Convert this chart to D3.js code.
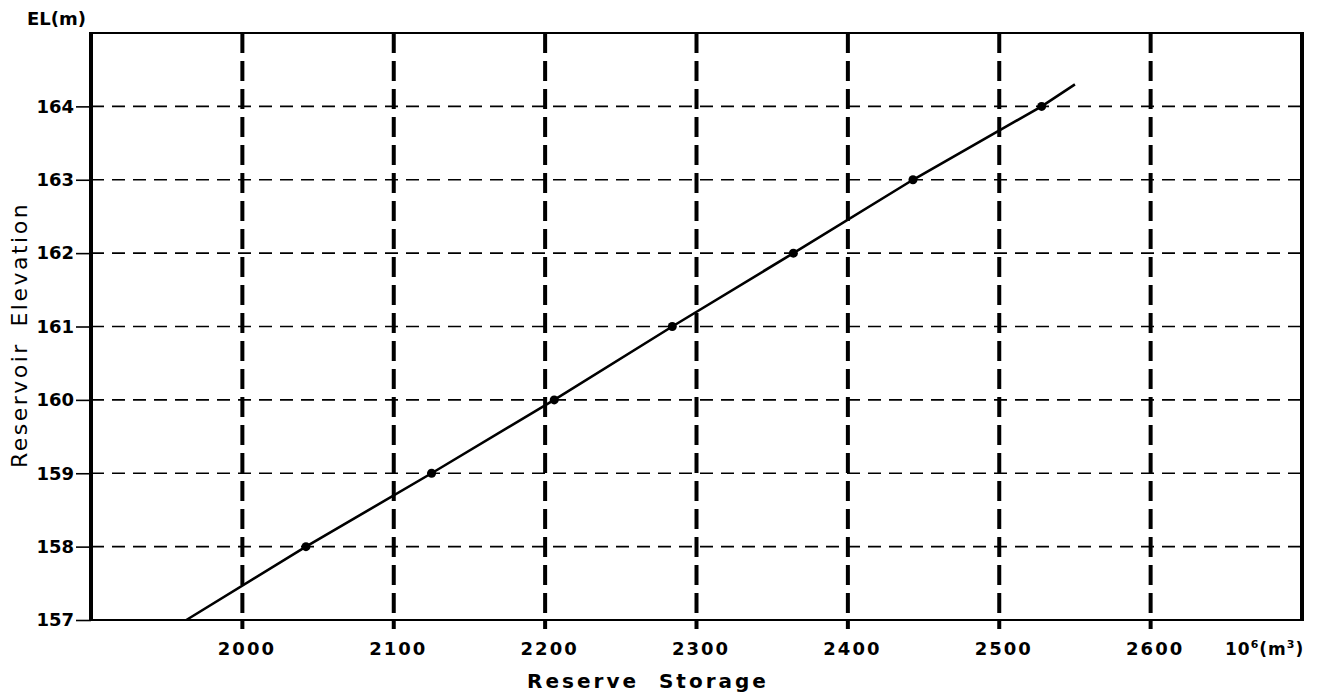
<!DOCTYPE html>
<html>
<head>
<meta charset="utf-8">
<script src="https://cdn.jsdelivr.net/npm/d3@7"></script>
<style>
  body { margin: 0; background: #fff; }
  text { font-family: "DejaVu Sans", sans-serif; font-weight: bold; fill: #000; }
</style>
</head>
<body>
<div id="chart"></div>
<script>
// storage (10^6 m3) vs elevation (m)
const storage = [2042, 2125, 2206, 2284, 2364, 2443, 2528];
const elevation = [158, 159, 160, 161, 162, 163, 164];
// the drawn line runs a bit past the measured points at both ends
const lineStorage = [1963, 2042, 2125, 2206, 2284, 2364, 2443, 2528, 2550];
const lineElevation = [157, 158, 159, 160, 161, 162, 163, 164, 164.3];

const xTicks = [2000, 2100, 2200, 2300, 2400, 2500, 2600];
const yTicks = [157, 158, 159, 160, 161, 162, 163, 164];

const W = 1320, H = 699;
const margin = {top: 33, right: 18, bottom: 79, left: 91};
const w = W - margin.left - margin.right;
const h = H - margin.top - margin.bottom;

const svg = d3.select("#chart").append("svg")
    .attr("width", W)
    .attr("height", H);

const g = svg.append("g")
    .attr("transform", "translate(" + margin.left + "," + margin.top + ")");

const x = d3.scaleLinear().domain([1900, 2700]).range([0, w]);
const y = d3.scaleLinear().domain([157, 165]).range([h, 0]);

// horizontal grid - thin dashes
g.selectAll(".hgrid")
    .data(yTicks.filter(d => d > 157))
    .enter().append("line")
    .attr("x1", 0)
    .attr("x2", w)
    .attr("y1", d => y(d))
    .attr("y2", d => y(d))
    .attr("stroke", "#000")
    .attr("stroke-width", 1.6)
    .attr("stroke-dasharray", "13,8");

// vertical grid - heavy dashes, poking out under the axis
g.selectAll(".vgrid")
    .data(xTicks)
    .enter().append("line")
    .attr("x1", d => x(d))
    .attr("x2", d => x(d))
    .attr("y1", 0)
    .attr("y2", h + 9)
    .attr("stroke", "#000")
    .attr("stroke-width", 4)
    .attr("stroke-dasharray", "20,8");

// frame
g.append("line").attr("x1", 0).attr("x2", w).attr("y1", 0).attr("y2", 0)
    .attr("stroke", "#000").attr("stroke-width", 2);
g.append("line").attr("x1", 0).attr("x2", w).attr("y1", h).attr("y2", h)
    .attr("stroke", "#000").attr("stroke-width", 2.2);
g.append("line").attr("x1", 0).attr("x2", 0).attr("y1", -1).attr("y2", h + 1)
    .attr("stroke", "#000").attr("stroke-width", 4);
g.append("line").attr("x1", w).attr("x2", w).attr("y1", -1).attr("y2", h + 1)
    .attr("stroke", "#000").attr("stroke-width", 4);

// axes (labels + small outside ticks)
const yAxis = g.append("g")
    .call(d3.axisLeft(y).tickValues(yTicks).tickSize(15).tickPadding(2).tickFormat(d3.format("d")));
yAxis.select(".domain").remove();
yAxis.selectAll("line").attr("stroke-width", 1.6);
yAxis.selectAll("text").style("font-size", "18px").style("font-weight", "bold");

const xAxis = g.append("g")
    .attr("transform", "translate(0," + h + ")")
    .call(d3.axisBottom(x).tickValues(xTicks).tickSize(0).tickPadding(22).tickFormat(d3.format("d")));
xAxis.select(".domain").remove();
xAxis.selectAll("text")
    .attr("dx", 4)
    .style("font-size", "18px")
    .style("font-weight", "bold")
    .style("letter-spacing", "2px");

// the curve
const line = d3.line()
    .x(d => x(d[0]))
    .y(d => y(d[1]));

g.append("path")
    .datum(d3.zip(lineStorage, lineElevation))
    .attr("d", line)
    .attr("fill", "none")
    .attr("stroke", "#000")
    .attr("stroke-width", 2.6);

g.selectAll(".pt")
    .data(d3.zip(storage, elevation))
    .enter().append("circle")
    .attr("cx", d => x(d[0]))
    .attr("cy", d => y(d[1]))
    .attr("r", 4.5)
    .attr("fill", "#000");

// titles
svg.append("text")
    .attr("x", 27)
    .attr("y", 25)
    .style("font-size", "18px")
    .text("EL(m)");

const unit = svg.append("text")
    .attr("x", 1225)
    .attr("y", 655)
    .style("font-size", "17px")
    .style("letter-spacing", "1px");
unit.append("tspan").text("10");
unit.append("tspan").attr("dy", -7).style("font-size", "11px").text("6");
unit.append("tspan").attr("dy", 7).text("(m");
unit.append("tspan").attr("dy", -7).style("font-size", "11px").text("3");
unit.append("tspan").attr("dy", 7).text(")");

svg.append("text")
    .attr("x", 648)
    .attr("y", 688)
    .attr("text-anchor", "middle")
    .style("font-size", "20px")
    .style("letter-spacing", "3px")
    .style("word-spacing", "10px")
    .text("Reserve Storage");

svg.append("text")
    .attr("transform", "translate(27,335) rotate(-90)")
    .attr("text-anchor", "middle")
    .style("font-size", "22px")
    .style("font-weight", "normal")
    .style("letter-spacing", "2.5px")
    .style("word-spacing", "6px")
    .text("Reservoir Elevation");
</script>
</body>
</html>
